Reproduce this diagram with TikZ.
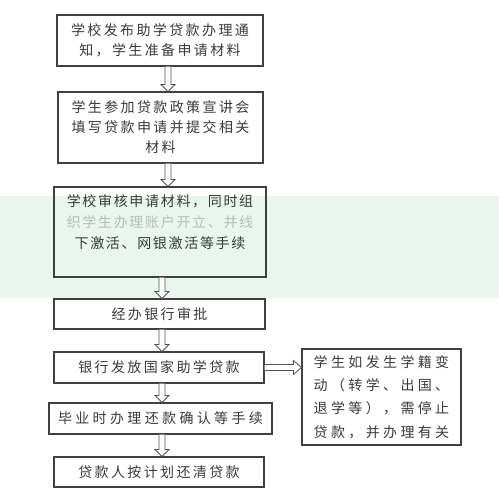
\documentclass[tikz,border=0pt]{standalone}
\usepackage{fontspec}
\newfontfamily\cjka[LetterSpace=17]{Noto Sans CJK SC}
\newfontfamily\cjkb[LetterSpace=12]{Noto Sans CJK SC}
\newfontfamily\cjkc[LetterSpace=24]{Noto Sans CJK SC}
\usetikzlibrary{calc}
\definecolor{band}{HTML}{E9F5ED}
\definecolor{edge}{HTML}{404040}
\definecolor{txt}{HTML}{3A3A3A}
\definecolor{faint}{HTML}{B8BDB9}
\tikzset{
  box/.style={draw=edge, line width=1.1pt, inner sep=0pt, text=txt, align=center,
    font={\cjka\fontsize{14}{20}\selectfont}},
  hollow down/.style={draw=edge!90, line width=0.8pt, fill=white, to path={
    let \p1=(\tikztostart), \p2=(\tikztotarget) in
    (\x1-3pt,\y1) -- (\x1-3pt,\y2+7pt) -- (\x1-7pt,\y2+7pt) -- (\x1,\y2)
    -- (\x1+7pt,\y2+7pt) -- (\x1+3pt,\y2+7pt) -- (\x1+3pt,\y1)}},
  hollow right/.style={draw=edge!90, line width=0.8pt, fill=white, to path={
    let \p1=(\tikztostart), \p2=(\tikztotarget) in
    (\x1,\y1+3pt) -- (\x2-8pt,\y1+3pt) -- (\x2-8pt,\y1+7pt) -- (\x2,\y1)
    -- (\x2-8pt,\y1-7pt) -- (\x2-8pt,\y1-3pt) -- (\x1,\y1-3pt)}}
}
\begin{document}
\begin{tikzpicture}[x=1pt,y=-1pt]
\useasboundingbox (0,0) rectangle (499,496);
\fill[white] (0,0) rectangle (499,496);
\fill[band] (0,196) rectangle (499,298);

\node[box, minimum width=206pt, minimum height=51pt] (b1) at (160,40.5)
  {学校发布助学贷款办理通\\知，学生准备申请材料};
\node[box, minimum width=205pt, minimum height=71pt] (b2) at (160.5,127.5)
  {学生参加贷款政策宣讲会\\填写贷款申请并提交相关\\材料};
\node[box, minimum width=212pt, minimum height=90pt,
  font={\cjkb\fontsize{14}{21}\selectfont}] (b3) at (160,232)
  {学校审核申请材料，同时组\\\textcolor{faint}{织学生办理账户开立、并线}\\下激活、网银激活等手续\\~};
\node[box, minimum width=211pt, minimum height=30pt] (b4) at (159.5,314) {经办银行审批};
\node[box, minimum width=210pt, minimum height=31pt] (b5) at (159,367.5) {银行发放国家助学贷款};
\node[box, minimum width=223pt, minimum height=31pt, font={\cjkc\fontsize{14}{20}\selectfont}] (b6) at (160.5,418.5) {毕业时办理还款确认等手续};
\node[box, minimum width=210pt, minimum height=30pt] (b7) at (159,472) {贷款人按计划还清贷款};
\node[box, minimum width=159pt, minimum height=96pt,
  font={\cjkc\fontsize{14}{23.3}\selectfont}] (rb) at (381.5,397)
  {学生如发生学籍变\\动（转学、出国、\\退学等），需停止\\贷款，并办理有关};

\coordinate (ua) at (168,0);
\coordinate (la) at (162,0);
\path[hollow down] (b1.south -| ua) to (b2.north -| ua);
\path[hollow down] (b2.south -| ua) to (b3.north -| ua);
\path[hollow down] (b3.south -| la) to (b4.north -| la);
\path[hollow down] (b4.south -| la) to (b5.north -| la);
\path[hollow down] (b5.south -| la) to (b6.north -| la);
\path[hollow down] (b6.south -| la) to (b7.north -| la);
\path[hollow right] (b5.east) to (rb.west |- b5.east);
\end{tikzpicture}
\end{document}
